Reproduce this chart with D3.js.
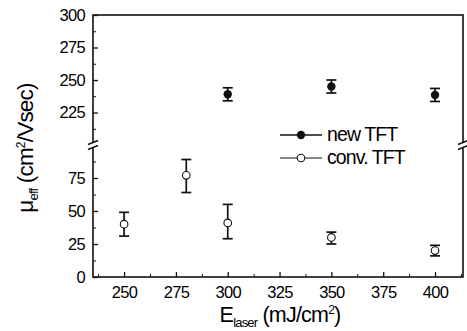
<!DOCTYPE html>
<html>
<head>
<meta charset="utf-8">
<script src="https://cdn.jsdelivr.net/npm/d3@7"></script>
<style>
  body { margin: 0; background: #fff; }
  text { font-family: "Liberation Sans", Arial, sans-serif; fill: #000; }
</style>
</head>
<body>
<div id="viz"></div>
<script>
// Datos
let energias = [250, 280, 300, 350, 400];
let xNewTFT = [300, 350, 400];
let newTFT = [239, 245, 238.5];
let newTFTbajo = [234, 240, 233.5];
let newTFTalto = [244, 250, 243.5];
let convTFT = [40, 77, 41, 30, 20];
let convTFTbajo = [31, 64, 29, 25, 16];
let convTFTalto = [49, 89, 55, 34, 24];
let xTicks = [250, 275, 300, 325, 350, 375, 400];
let yTicksBajo = [0, 25, 50, 75];
let yTicksAlto = [225, 250, 275, 300];

let w = 467;
let h = 331;
let izq = 93, der = 463, arriba = 15, abajo = 277, corte = 145;

let svg = d3.select('#viz')
    .append('svg')
        .attr('width', w)
        .attr('height', h);

// Escalas: eje X lineal y eje Y con corte (0-100 abajo, 200-300 arriba)
let x = d3.scaleLinear().domain([235, 413.5]).range([izq, der]);
let yBajo = d3.scaleLinear().domain([0, 100]).range([abajo, corte]);
let yAlto = d3.scaleLinear().domain([200, 300]).range([corte, arriba]);
function y(v) { return v >= 150 ? yAlto(v) : yBajo(v); }

let trazo = '#111';

// Marco
svg.append('rect')
    .attr('x', izq).attr('y', arriba)
    .attr('width', der - izq).attr('height', abajo - arriba)
    .attr('fill', 'none').attr('stroke', trazo).attr('stroke-width', 1.6);

// Eje X (ticks hacia adentro)
let ejeX = svg.append('g')
    .attr('transform', `translate(0,${abajo})`)
    .call(d3.axisBottom(x).tickValues(xTicks).tickSizeInner(-5).tickSizeOuter(0).tickPadding(9))
    .call(g => g.select('.domain').remove());
ejeX.selectAll('text').style('font-size', '16.5px').attr('letter-spacing', '-0.7px');
ejeX.selectAll('line').attr('stroke', trazo).attr('stroke-width', 1.3);
svg.append('g')
    .attr('transform', `translate(0,${abajo})`)
    .call(d3.axisBottom(x).tickValues(d3.range(237.5, 413, 25)).tickSize(-3).tickFormat(''))
    .call(g => g.select('.domain').remove())
    .selectAll('line').attr('stroke', trazo);

// Eje Y, dos tramos
function ejeY(escala, ticks, menores) {
    let g = svg.append('g')
        .attr('transform', `translate(${izq},0)`)
        .call(d3.axisLeft(escala).tickValues(ticks).tickSizeInner(-5).tickSizeOuter(0).tickPadding(8))
        .call(g => g.select('.domain').remove());
    g.selectAll('text').style('font-size', '16.5px').attr('letter-spacing', '-0.7px');
    g.selectAll('line').attr('stroke', trazo).attr('stroke-width', 1.3);
    svg.append('g')
        .attr('transform', `translate(${izq},0)`)
        .call(d3.axisLeft(escala).tickValues(menores).tickSize(-3).tickFormat(''))
        .call(g => g.select('.domain').remove())
        .selectAll('line').attr('stroke', trazo);
}
ejeY(yBajo, yTicksBajo, [12.5, 37.5, 62.5, 87.5]);
ejeY(yAlto, yTicksAlto, [212.5, 237.5, 262.5, 287.5]);

// Marcas de corte
[izq, der].forEach(function(cx) {
    svg.append('rect').attr('x', cx - 5).attr('y', corte - 2.5).attr('width', 10).attr('height', 5).attr('fill', '#fff');
    [-2.5, 2.5].forEach(function(dy) {
        svg.append('line')
            .attr('x1', cx - 5).attr('y1', corte + dy + 2)
            .attr('x2', cx + 5).attr('y2', corte + dy - 2)
            .attr('stroke', trazo).attr('stroke-width', 1.5);
    });
});

// Barras de error
function barrasError(xs, bajos, altos) {
    xs.forEach(function(v, i) {
        let cx = x(v);
        let g = svg.append('g').attr('stroke', trazo).attr('stroke-width', 1.7);
        g.append('line').attr('x1', cx).attr('x2', cx).attr('y1', y(bajos[i])).attr('y2', y(altos[i]));
        g.append('line').attr('x1', cx - 5).attr('x2', cx + 5).attr('y1', y(bajos[i])).attr('y2', y(bajos[i]));
        g.append('line').attr('x1', cx - 5).attr('x2', cx + 5).attr('y1', y(altos[i])).attr('y2', y(altos[i]));
    });
}
barrasError(xNewTFT, newTFTbajo, newTFTalto);
barrasError(energias, convTFTbajo, convTFTalto);

// Puntos
svg.selectAll('puntoNuevo')
    .data(newTFT)
    .enter()
    .append('circle')
        .attr('cx', (d, i) => x(xNewTFT[i]))
        .attr('cy', d => y(d))
        .attr('r', 4.2)
        .attr('fill', trazo);
svg.selectAll('puntoConv')
    .data(convTFT)
    .enter()
    .append('circle')
        .attr('cx', (d, i) => x(energias[i]))
        .attr('cy', d => y(d))
        .attr('r', 3.8)
        .attr('fill', '#fff')
        .attr('stroke', trazo)
        .attr('stroke-width', 1.1);

// Leyenda
let leyenda = svg.append('g');
leyenda.append('line').attr('x1', 280).attr('x2', 322).attr('y1', 135).attr('y2', 135).attr('stroke', trazo).attr('stroke-width', 1.3);
leyenda.append('circle').attr('cx', 301).attr('cy', 135).attr('r', 4.2).attr('fill', trazo);
leyenda.append('text').attr('x', 327).attr('y', 141).style('font-size', '19.5px').attr('letter-spacing', '-0.9px').text('new TFT');
leyenda.append('line').attr('x1', 280).attr('x2', 322).attr('y1', 158).attr('y2', 158).attr('stroke', trazo).attr('stroke-width', 1);
leyenda.append('circle').attr('cx', 301).attr('cy', 158).attr('r', 3.8).attr('fill', '#fff').attr('stroke', trazo).attr('stroke-width', 1.1);
leyenda.append('text').attr('x', 327).attr('y', 164).style('font-size', '19.5px').attr('letter-spacing', '-0.9px').text('conv. TFT');

// Titulos de ejes
let tituloX = svg.append('text')
    .attr('x', 280).attr('y', 322)
    .attr('text-anchor', 'middle')
    .style('font-size', '21.5px')
    .attr('letter-spacing', '-0.8px');
tituloX.append('tspan').text('E');
tituloX.append('tspan').attr('dy', 5).style('font-size', '13px').text('laser');
tituloX.append('tspan').attr('dy', -5).text(' (mJ/cm');
tituloX.append('tspan').attr('dy', -8).style('font-size', '12px').text('2');
tituloX.append('tspan').attr('dy', 8).text(')');

let tituloY = svg.append('text')
    .attr('transform', 'translate(33,148) rotate(-90)')
    .attr('text-anchor', 'middle')
    .style('font-size', '22.5px')
    .attr('letter-spacing', '-0.8px');
tituloY.append('tspan').text('μ');
tituloY.append('tspan').attr('dy', 5).style('font-size', '13px').text('eff');
tituloY.append('tspan').attr('dy', -5).text(' (cm');
tituloY.append('tspan').attr('dy', -8).style('font-size', '12px').text('2');
tituloY.append('tspan').attr('dy', 8).text('/Vsec)');
</script>
</body>
</html>
